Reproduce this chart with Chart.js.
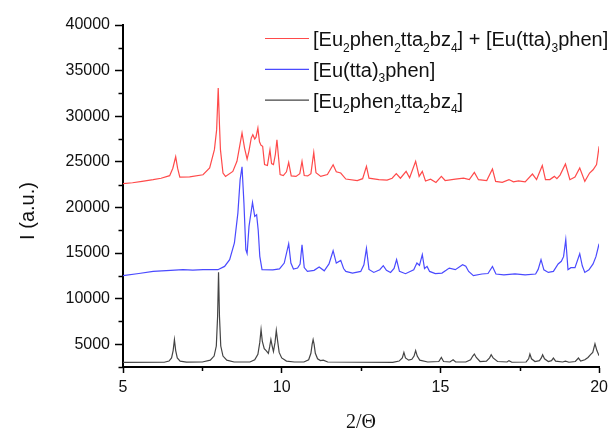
<!DOCTYPE html>
<html>
<head>
<meta charset="utf-8">
<script src="https://cdn.jsdelivr.net/npm/chart.js@4.4.1/dist/chart.umd.min.js"></script>
<style>
  html, body { margin: 0; padding: 0; background: #fff; }
  #xrd { display: block; }
</style>
</head>
<body>
<canvas id="xrd" width="613" height="428"></canvas>
<script>
// XRD patterns, 2θ from 5 to 20, three stacked traces.

const seriesLabels = [
    '[Eu_2phen_2tta_2bz_4] + [Eu(tta)_3phen]',
    '[Eu(tta)_3phen]',
    '[Eu_2phen_2tta_2bz_4]',
];

const mixX = [5.0, 5.3, 5.6, 5.95, 6.2, 6.47, 6.57, 6.66, 6.72, 6.79, 7.1, 7.52, 7.73, 7.88, 7.95, 8.0, 8.04, 8.07, 8.15, 8.23,
    8.46, 8.59, 8.69, 8.75, 8.83, 8.91, 8.97, 9.04, 9.09, 9.15, 9.19, 9.25, 9.30, 9.35, 9.40, 9.46, 9.55, 9.63, 9.68, 9.74,
    9.80, 9.85, 9.90, 9.95, 10.05, 10.15, 10.22, 10.3, 10.45, 10.57, 10.64, 10.71, 10.82, 10.92, 11.01, 11.08, 11.23, 11.44, 11.62, 11.72,
    11.86, 12.02, 12.38, 12.55, 12.67, 12.75, 13.06, 13.32, 13.48, 13.61, 13.74, 13.92, 14.03, 14.22, 14.33, 14.43, 14.53, 14.69, 14.86, 15.03,
    15.15, 15.47, 15.73, 15.91, 16.07, 16.2, 16.46, 16.64, 16.74, 16.95, 17.16, 17.3, 17.46, 17.67, 17.9, 18.03, 18.21, 18.31, 18.45, 18.59,
    18.67, 18.77, 18.94, 19.08, 19.24, 19.39, 19.55, 19.7, 19.81, 19.92, 20.0];
const mixY = [22600, 22700, 22850, 23040, 23200, 23480, 24300, 25550, 24300, 23330, 23350, 23580, 24320, 26330, 28500, 33100, 29000, 26330, 23770, 23400,
    23950, 25050, 27000, 28160, 26500, 25300, 26200, 27600, 27970, 27500, 27700, 28700, 27200, 26800, 26700, 24700, 24600, 26300, 24800, 24700,
    25800, 27420, 25500, 23600, 23480, 23900, 24940, 23450, 23400, 23700, 25050, 23500, 23450, 23700, 26030, 23800, 23400, 23600, 24680, 23900,
    23770, 23110, 22930, 23150, 24500, 23200, 23050, 23000, 23200, 23700, 23200, 23950, 23250, 25050, 23400, 23950, 22900, 23100, 22740, 23400,
    22950, 23100, 23200, 23050, 23840, 23040, 22950, 24210, 22850, 22750, 23050, 22800, 22900, 22800, 23660, 23050, 24600, 23050, 23050, 23400,
    23150, 23540, 24760, 23040, 23330, 24320, 22850, 23770, 24130, 24700, 26690];

const ttaX = [5.0, 5.5, 5.95, 6.5, 6.89, 7.2, 7.52, 7.99, 8.2, 8.36, 8.51, 8.62, 8.69, 8.75, 8.81, 8.87, 8.91, 8.97, 9.08, 9.15,
    9.21, 9.26, 9.31, 9.38, 9.72, 9.93, 10.08, 10.22, 10.29, 10.37, 10.5, 10.58, 10.64, 10.71, 10.81, 11.02, 11.18, 11.34, 11.49, 11.62,
    11.72, 11.86, 11.95, 12.02, 12.23, 12.49, 12.59, 12.67, 12.75, 12.9, 13.09, 13.2, 13.3, 13.43, 13.54, 13.62, 13.71, 13.9, 14.16, 14.26,
    14.34, 14.43, 14.5, 14.58, 14.66, 14.84, 15.05, 15.18, 15.28, 15.47, 15.7, 15.8, 15.89, 16.04, 16.31, 16.5, 16.64, 16.75, 17.0, 17.35,
    17.67, 18.0, 18.08, 18.17, 18.26, 18.4, 18.56, 18.71, 18.81, 18.88, 18.95, 19.02, 19.11, 19.24, 19.39, 19.47, 19.55, 19.68, 19.81, 19.9, 20.0];
const ttaY = [12510, 12750, 12980, 13100, 13170, 13120, 13170, 13170, 13530, 14270, 16100, 19400, 23040, 24450, 20480, 15360, 14950, 17920, 20550, 19010,
    19200, 17500, 14630, 13170, 13150, 13250, 13900, 16020, 13900, 13240, 13350, 13800, 15910, 13400, 12980, 13100, 13460, 13050, 13800, 15250,
    13900, 14190, 13300, 12980, 12800, 12980, 13700, 15500, 13200, 12870, 13170, 13610, 13100, 12870, 13300, 14270, 12980, 12730, 13170, 13900,
    13650, 14820, 13300, 13530, 12980, 12750, 12800, 13100, 13350, 13170, 13720, 13550, 12980, 12510, 12700, 12750, 13530, 12700, 12600, 12700,
    12600, 12700, 13200, 14270, 13150, 12870, 12980, 13800, 14090, 14600, 16460, 13170, 13390, 13390, 14920, 13600, 12870, 13150, 13800, 14600, 16020];

const bzX = [5.0, 6.3, 6.45, 6.53, 6.58, 6.62, 6.66, 6.71, 6.8, 7.0, 7.5, 7.75, 7.87, 7.94, 7.98, 8.01, 8.04, 8.08, 8.15, 8.27,
    8.5, 9.0, 9.15, 9.25, 9.31, 9.35, 9.39, 9.45, 9.51, 9.58, 9.62, 9.66, 9.70, 9.74, 9.79, 9.83, 9.87, 9.92, 10.0, 10.15,
    10.4, 10.7, 10.85, 10.92, 10.96, 10.99, 11.02, 11.06, 11.13, 11.22, 11.31, 11.45, 13.5, 13.7, 13.8, 13.85, 13.9, 14.0, 14.1, 14.17,
    14.22, 14.27, 14.35, 14.6, 14.95, 15.03, 15.1, 15.3, 15.4, 15.48, 15.8, 15.95, 16.02, 16.07, 16.13, 16.25, 16.45, 16.55, 16.6, 16.66,
    16.8, 17.1, 17.16, 17.25, 17.7, 17.78, 17.82, 17.87, 17.98, 18.12, 18.18, 18.22, 18.28, 18.4, 18.5, 18.56, 18.63, 18.85, 18.94, 19.05,
    19.25, 19.35, 19.42, 19.55, 19.65, 19.73, 19.8, 19.87, 19.93, 20.0];
const bzY = [3000, 3020, 3150, 3500, 4300, 5500, 4300, 3500, 3150, 3030, 3050, 3250, 3700, 4800, 8000, 12900, 8000, 4800, 3700, 3250,
    3050, 3050, 3300, 3900, 5200, 6600, 5300, 4500, 4300, 4000, 4700, 5500, 4800, 4200, 5200, 6500, 5400, 4100, 3500, 3150,
    3050, 3050, 3300, 4000, 5000, 5500, 5000, 4000, 3400, 3200, 3250, 3050, 3000, 3150, 3500, 4100, 3500, 3250, 3350, 3700,
    4300, 3700, 3250, 3050, 3100, 3550, 3100, 3050, 3300, 3050, 3050, 3300, 3700, 3920, 3550, 3100, 3150, 3500, 3850, 3500,
    3100, 3050, 3200, 3020, 3050, 3400, 3920, 3400, 3100, 3200, 3500, 3850, 3400, 3100, 3200, 3480, 3150, 3050, 3150, 3020,
    3100, 3480, 3150, 3300, 3550, 3850, 4100, 5050, 4300, 3740];

const seriesColors = ['#ff4a4a', '#4a4aff', '#444444'];

const SANS = '"Liberation Sans", Arial, sans-serif';
const SERIF = '"Liberation Serif", "Times New Roman", serif';

function toPoints(xs, ys) {
    return xs.map((x, i) => ({ x, y: ys[i] }));
}

// Origin-style minor ticks (shorter, unlabeled) + legend with subscripts + y title.
const originDecor = {
    id: 'originDecor',
    afterDraw(chart) {
        const ctx = chart.ctx;
        const xs = chart.scales.x, ys = chart.scales.y;
        const area = chart.chartArea;
        ctx.save();
        ctx.strokeStyle = '#000';
        ctx.lineWidth = 1.5;
        ys.ticks.forEach(t => {
            if (t.value % 5000 === 0) return;
            const py = Math.round(ys.getPixelForValue(t.value)) + 0.5;
            ctx.beginPath();
            ctx.moveTo(area.left - 4.5, py);
            ctx.lineTo(area.left, py);
            ctx.stroke();
        });
        xs.ticks.forEach(t => {
            if (t.value % 5 === 0) return;
            const px = Math.round(xs.getPixelForValue(t.value)) + 0.5;
            ctx.beginPath();
            ctx.moveTo(px, area.bottom);
            ctx.lineTo(px, area.bottom + 4);
            ctx.stroke();
        });

        // y title
        ctx.fillStyle = '#111';
        ctx.font = '20px ' + SANS;
        ctx.textAlign = 'center';
        ctx.textBaseline = 'middle';
        ctx.translate(28, 211);
        ctx.rotate(-Math.PI / 2);
        ctx.fillText('I (a.u.)', 0, 0);
        ctx.restore();

        // legend
        ctx.save();
        ctx.textAlign = 'left';
        ctx.textBaseline = 'alphabetic';
        chart.data.datasets.forEach((ds, i) => {
            const ly = 38.5 + i * 30.8;
            ctx.strokeStyle = seriesColors[i];
            ctx.lineWidth = 1.2;
            ctx.beginPath();
            ctx.moveTo(265, ly);
            ctx.lineTo(309, ly);
            ctx.stroke();
            ctx.fillStyle = '#111';
            let tx = 313;
            const base = ly + 7.5;
            ds.label.split(/_(\d)/).forEach((part, k) => {
                if (!part) return;
                if (k % 2 === 1) {
                    ctx.font = '12px ' + SANS;
                    ctx.fillText(part, tx, base + 5.5);
                } else {
                    ctx.font = '20px ' + SANS;
                    ctx.fillText(part, tx, base);
                }
                tx += ctx.measureText(part).width;
            });
        });
        ctx.restore();
    },
};

new Chart(document.getElementById('xrd'), {
    type: 'line',
    data: {
        datasets: [
            { label: seriesLabels[0], data: toPoints(mixX, mixY), borderColor: seriesColors[0] },
            { label: seriesLabels[1], data: toPoints(ttaX, ttaY), borderColor: seriesColors[1] },
            { label: seriesLabels[2], data: toPoints(bzX, bzY), borderColor: seriesColors[2] },
        ],
    },
    options: {
        responsive: false,
        animation: false,
        layout: { padding: { top: 25, right: 12, left: 0, bottom: 0 } },
        elements: {
            point: { radius: 0 },
            line: { borderWidth: 1.2, tension: 0 },
        },
        plugins: {
            legend: { display: false },
            tooltip: { enabled: false },
        },
        scales: {
            x: {
                type: 'linear', min: 5, max: 20,
                afterFit: s => { s.height = 61; },
                ticks: {
                    stepSize: 2.5, autoSkip: false, padding: 5, color: '#111',
                    font: { family: SANS, size: 16 },
                    callback: v => (v % 5 === 0 ? String(v) : ''),
                },
                grid: {
                    drawOnChartArea: false, tickLength: 6, tickWidth: 1.5,
                    tickColor: c => (c.tick && c.tick.value % 5 === 0 ? '#000' : 'rgba(0,0,0,0)'),
                },
                border: { display: true, color: '#000', width: 2 },
                title: {
                    display: true, text: '2/\u0398', color: '#111',
                    font: { family: SERIF, size: 20, lineHeight: 1.2 },
                    padding: { top: 0, bottom: -7 },
                },
            },
            y: {
                min: 2500, max: 40000,
                afterFit: s => { s.width = 123; },
                ticks: {
                    stepSize: 2500, autoSkip: false, padding: 5, color: '#111',
                    font: { family: SANS, size: 16 },
                    callback: v => (v % 5000 === 0 ? String(v) : ''),
                },
                grid: {
                    drawOnChartArea: false, tickLength: 8, tickWidth: 1.5,
                    tickColor: c => (c.tick && c.tick.value % 5000 === 0 ? '#000' : 'rgba(0,0,0,0)'),
                },
                border: { display: true, color: '#000', width: 2 },
            },
        },
    },
    plugins: [originDecor],
});
</script>
</body>
</html>
